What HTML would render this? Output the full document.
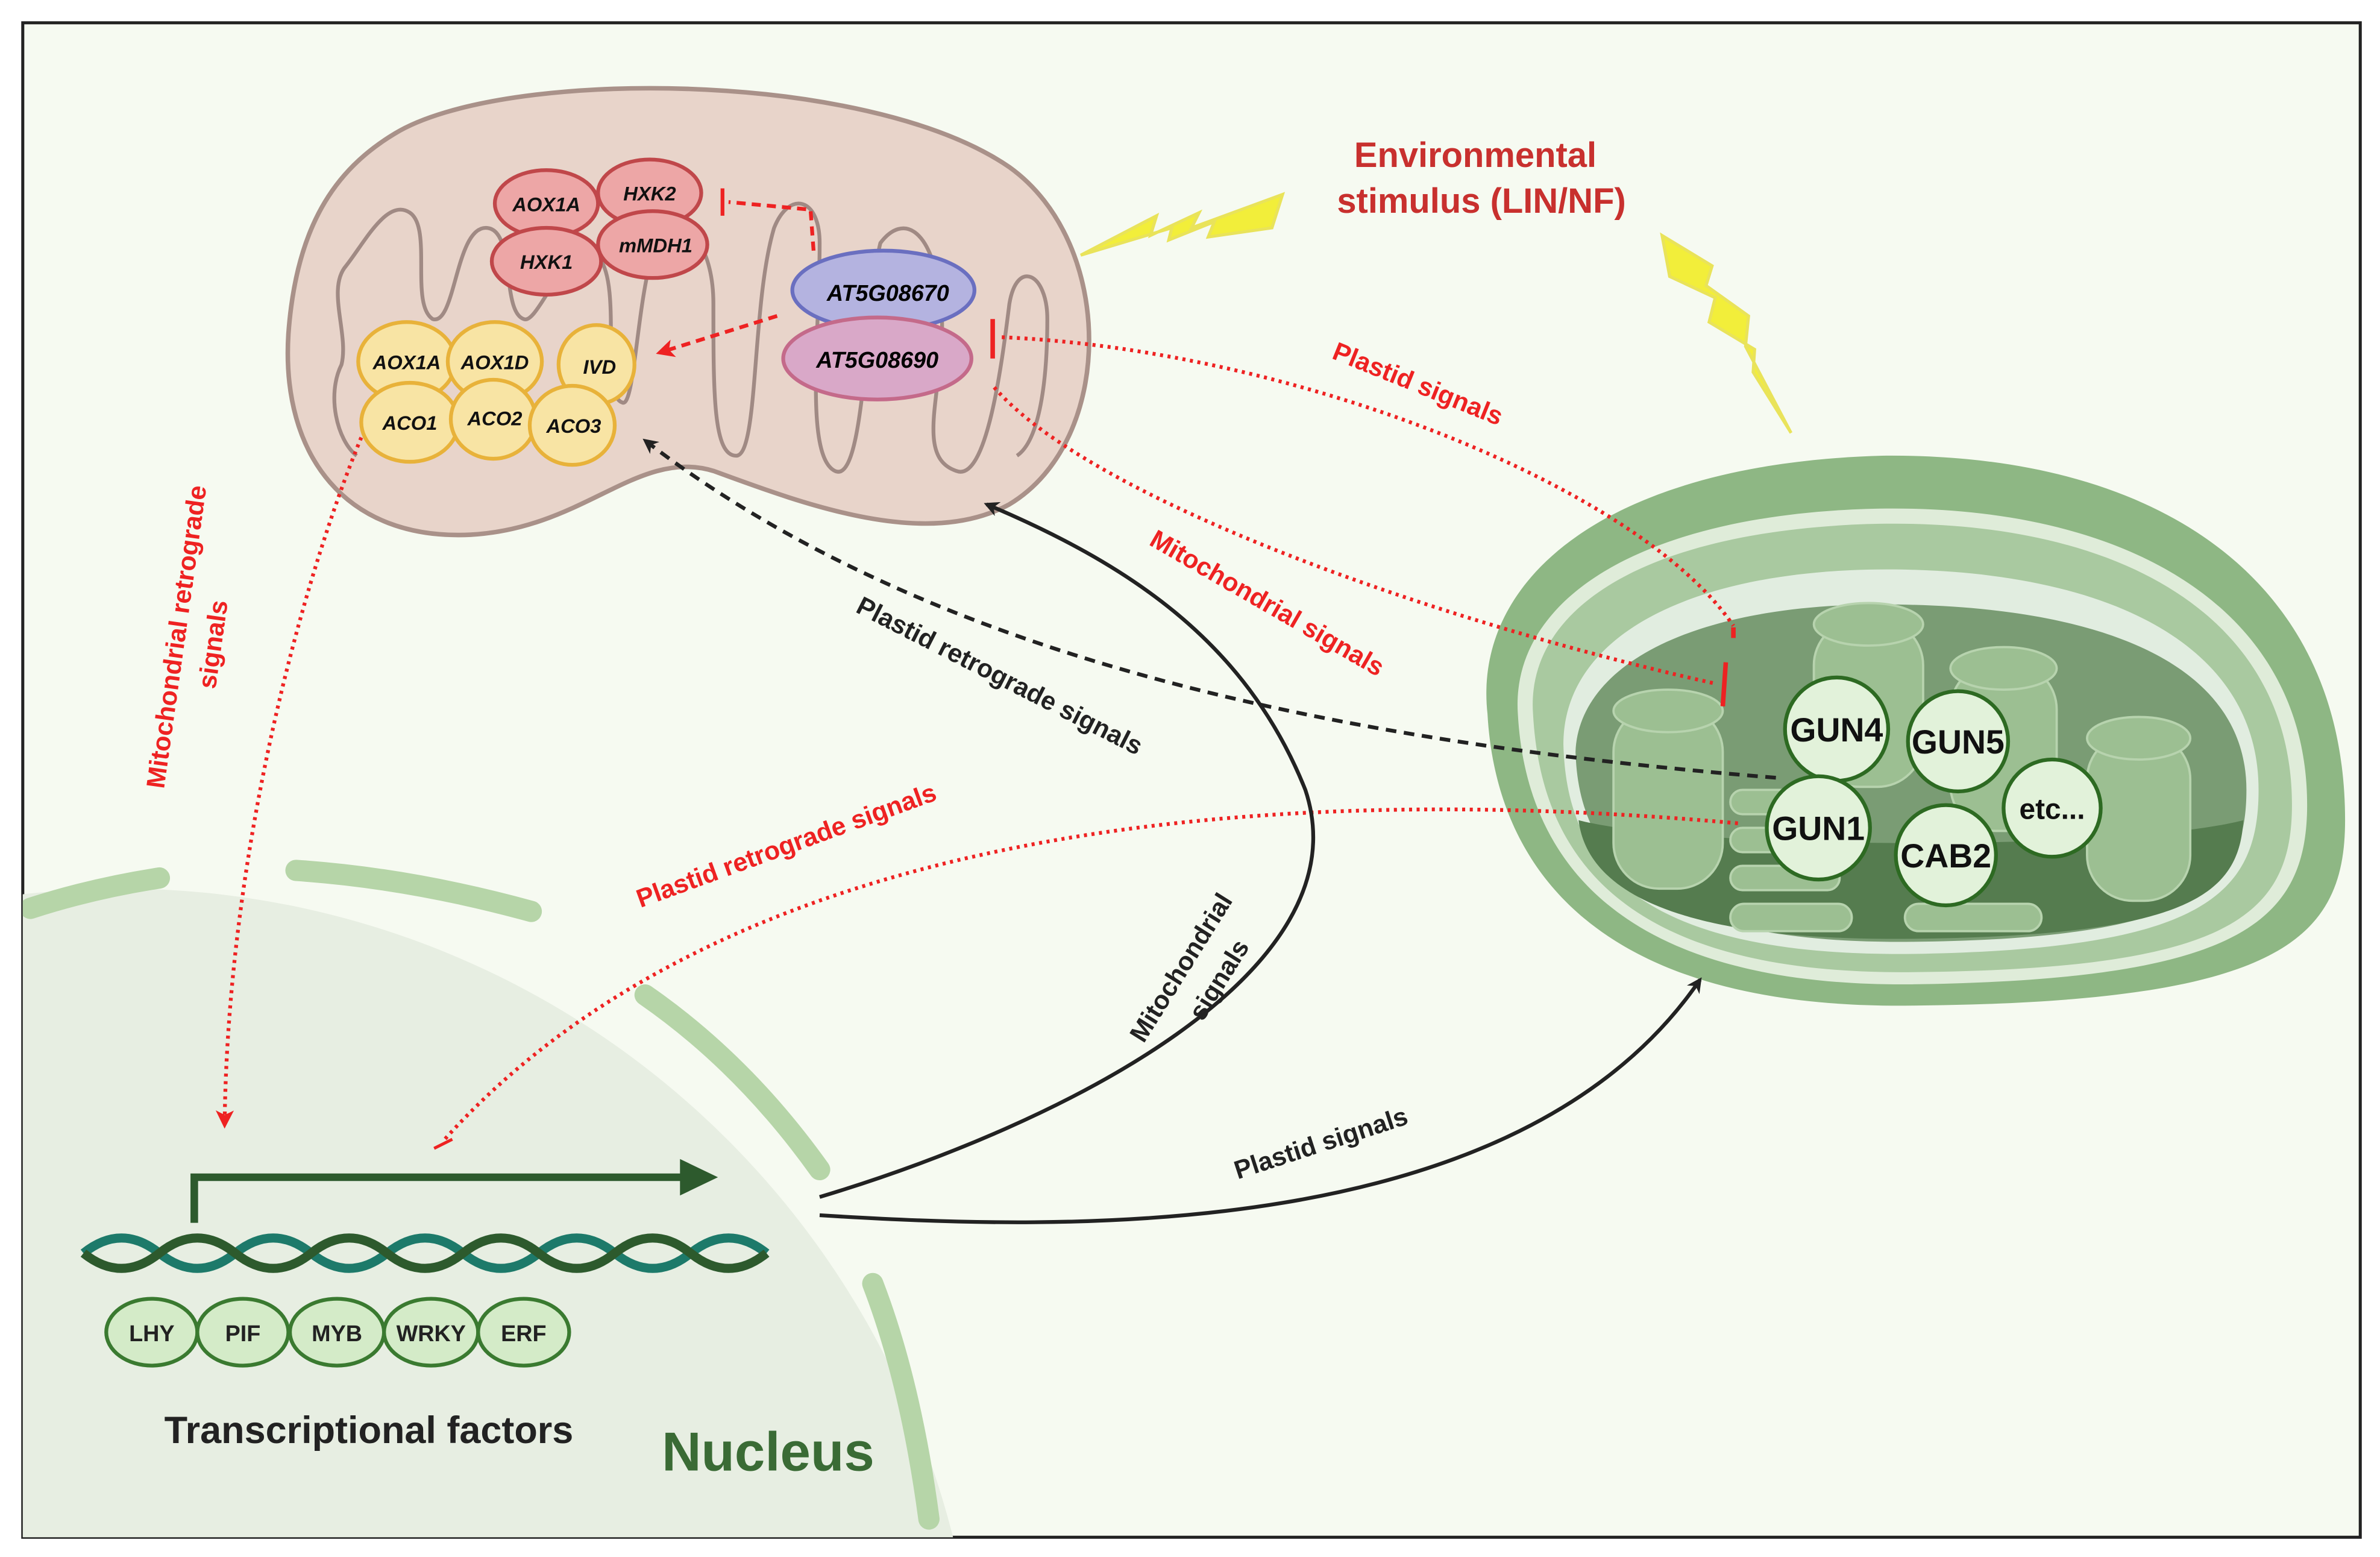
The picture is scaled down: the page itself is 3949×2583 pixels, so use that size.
<!DOCTYPE html>
<html><head><meta charset="utf-8"><style>
html,body{margin:0;padding:0;background:#fff;width:3949px;height:2583px;overflow:hidden}
svg{display:block}
text{font-family:"Liberation Sans",sans-serif;font-weight:bold}
</style></head><body>
<svg width="3949" height="2583" viewBox="0 0 1568 1025" preserveAspectRatio="none" xmlns="http://www.w3.org/2000/svg">
<defs>
<marker id="ab" markerWidth="10" markerHeight="10" refX="8" refY="5" orient="auto" markerUnits="userSpaceOnUse"><path d="M0,0 L10,5 L0,10 L3,5 Z" fill="#222"/></marker>
<marker id="ar" markerWidth="12" markerHeight="12" refX="9" refY="6" orient="auto" markerUnits="userSpaceOnUse"><path d="M0,0 L12,6 L0,12 L3,6 Z" fill="#e22"/></marker>
<clipPath id="fr"><rect x="15" y="15" width="1540" height="997"/></clipPath>
</defs>
<rect x="0" y="0" width="1568" height="1025" fill="#fff"/>
<rect x="15" y="15" width="1540" height="997" fill="#f6faf1" stroke="#222" stroke-width="2"/>
<g clip-path="url(#fr)">
<circle cx="80" cy="1150" r="565" fill="#e7eee2"/>
<g fill="none" stroke="#b6d5a8" stroke-width="14" stroke-linecap="round">
<path d="M20,598 Q60,585 105,578"/>
<path d="M195,573 Q270,578 350,600"/>
<path d="M425,655 Q490,700 540,770"/>
<path d="M575,845 Q600,910 612,1000"/>
</g>
<text x="436" y="968" font-size="36" fill="#3a6b35">Nucleus</text>
</g>
<path d="M260,88 C330,45 570,45 665,110 C735,160 735,290 665,332 C610,362 530,332 470,310 C420,295 385,348 310,352 C228,356 185,300 190,220 C195,150 220,112 260,88 Z" fill="#e8d4ca" stroke="#a99189" stroke-width="3"/>
<path d="M235,300 C222,290 215,260 225,240 C230,220 215,190 228,175 C240,160 255,130 270,140 C285,150 270,200 285,210 C300,215 300,150 320,150 C340,150 330,205 345,210 C355,215 375,150 395,170 C410,190 395,260 410,265 C420,270 420,160 440,150 C455,145 470,165 470,200 C470,260 470,300 485,300 C500,300 495,200 510,150 C520,125 540,130 540,160 C540,220 530,300 550,310 C570,320 570,200 580,160 C595,140 615,150 620,200 C625,250 600,300 630,310 C650,318 660,240 665,200 C670,170 690,180 690,210 C690,250 685,290 670,300" fill="none" stroke="#a08a84" stroke-width="2.5"/>
<g stroke="#c0474a" stroke-width="2.5" fill="#eda6a6">
<ellipse cx="360" cy="134" rx="34" ry="22"/><ellipse cx="428" cy="127" rx="34" ry="22"/>
<ellipse cx="360" cy="172" rx="36" ry="22"/><ellipse cx="430" cy="161" rx="36" ry="22"/>
</g>
<g font-size="13" font-style="italic" text-anchor="middle" fill="#111">
<text x="360" y="139">AOX1A</text><text x="428" y="132">HXK2</text><text x="360" y="177">HXK1</text><text x="432" y="166">mMDH1</text>
</g>
<g stroke="#e8b23a" stroke-width="2.5" fill="#f8e4a4">
<ellipse cx="268" cy="238" rx="32" ry="26"/><ellipse cx="326" cy="238" rx="31" ry="26"/><ellipse cx="393" cy="240" rx="25" ry="26"/>
<ellipse cx="270" cy="278" rx="32" ry="26"/><ellipse cx="325" cy="276" rx="28" ry="26"/><ellipse cx="377" cy="280" rx="28" ry="26"/>
</g>
<g font-size="13" font-style="italic" text-anchor="middle" fill="#111">
<text x="268" y="243">AOX1A</text><text x="326" y="243">AOX1D</text><text x="395" y="246">IVD</text>
<text x="270" y="283">ACO1</text><text x="326" y="280">ACO2</text><text x="378" y="285">ACO3</text>
</g>
<ellipse cx="582" cy="191" rx="60" ry="26" fill="#b4b3e0" stroke="#6a6fc0" stroke-width="2.5"/>
<ellipse cx="578" cy="236" rx="62" ry="27" fill="#d9a8c8" stroke="#c46a8a" stroke-width="2.5"/>
<text x="585" y="198" font-size="15" font-style="italic" text-anchor="middle">AT5G08670</text>
<text x="578" y="242" font-size="15" font-style="italic" text-anchor="middle">AT5G08690</text>
<path d="M536,165 L534,138 L480,133" fill="none" stroke="#e22" stroke-width="2.5" stroke-dasharray="6,4"/>
<path d="M476,124 L476,142" stroke="#e22" stroke-width="2.5"/>
<path d="M512,208 L435,232" fill="none" stroke="#e22" stroke-width="2.5" stroke-dasharray="6,4" marker-end="url(#ar)"/>
<path d="M712,168 L762,142 L758,155 L790,140 L785,150 L845,128 L838,150 L796,156 L800,146 L770,158 L772,150 Z" fill="#f2ee3a" stroke="#e9e35a" stroke-width="2"/>
<path d="M1095,155 L1128,175 L1124,188 L1152,208 L1150,228 L1180,285 L1155,245 L1156,230 L1126,212 L1130,196 L1100,182 Z" fill="#f2ee3a" stroke="#e9e35a" stroke-width="2"/>
<text x="972" y="110" font-size="23" fill="#c8302e" text-anchor="middle">Environmental</text>
<text x="976" y="140" font-size="23" fill="#c8302e" text-anchor="middle">stimulus (LIN/NF)</text>
<path d="M980,470 C970,380 1060,305 1240,300 C1420,298 1545,380 1545,540 C1545,620 1500,660 1260,662 C1040,665 985,560 980,470 Z" fill="#8eb784"/>
<path d="M1000,470 C995,395 1080,340 1230,335 C1400,330 1520,400 1520,530 C1520,610 1470,645 1260,648 C1060,650 1005,560 1000,470 Z" fill="#dfecd9"/>
<path d="M1010,470 C1005,400 1085,350 1230,345 C1395,340 1510,405 1510,530 C1510,605 1465,638 1260,640 C1065,642 1015,560 1010,470 Z" fill="#a9c9a0"/>
<path d="M1030,490 C1030,420 1110,378 1230,375 C1380,372 1488,420 1488,520 C1488,590 1450,625 1260,628 C1080,630 1032,570 1030,490 Z" fill="#e1ede0"/>
<path d="M1038,495 C1040,440 1110,400 1230,398 C1380,396 1480,435 1480,520 C1480,585 1445,618 1260,620 C1085,622 1040,565 1038,495 Z" fill="#7a9c74"/>
<path d="M1040,540 C1120,560 1400,560 1478,540 C1475,590 1440,616 1260,618 C1090,620 1045,580 1040,540 Z" fill="#557c4f"/>
<g fill="#9cbf92" stroke="#b7d3ae" stroke-width="1.5">
<rect x="1063" y="465" width="72" height="120" rx="30"/><ellipse cx="1099" cy="468" rx="36" ry="14"/>
<rect x="1195" y="408" width="72" height="110" rx="30"/><ellipse cx="1231" cy="411" rx="36" ry="14"/>
<rect x="1285" y="437" width="70" height="110" rx="30"/><ellipse cx="1320" cy="440" rx="35" ry="14"/>
<rect x="1375" y="483" width="68" height="110" rx="30"/><ellipse cx="1409" cy="486" rx="34" ry="14"/>
<rect x="1140" y="520" width="72" height="16" rx="8"/><rect x="1140" y="545" width="72" height="16" rx="8"/><rect x="1140" y="570" width="72" height="16" rx="8"/>
<rect x="1140" y="595" width="80" height="18" rx="9"/><rect x="1255" y="595" width="90" height="18" rx="9"/>
</g>
<g fill="#e2f2da" stroke="#2d6a22" stroke-width="2.5">
<circle cx="1210" cy="480" r="34"/><circle cx="1290" cy="488" r="33"/><circle cx="1352" cy="532" r="32"/>
<circle cx="1198" cy="545" r="34"/><circle cx="1282" cy="563" r="33"/>
</g>
<g font-size="22" text-anchor="middle" fill="#111">
<text x="1210" y="488">GUN4</text><text x="1290" y="496">GUN5</text><text x="1198" y="553">GUN1</text><text x="1282" y="571">CAB2</text>
<text x="1352" y="539" font-size="19">etc...</text>
</g>
<g fill="none" stroke="#e22" stroke-width="2.5" stroke-dasharray="2,3">
<path d="M238,288 C200,380 150,560 148,740" marker-end="url(#ar)"/>
<path d="M660,222 C850,230 1080,320 1142,412"/>
<path d="M655,255 C720,330 950,410 1130,450"/>
<path d="M1145,542 C900,520 500,520 293,750"/>
</g>
<path d="M654,210 L654,236" stroke="#e22" stroke-width="3"/>
<path d="M1142,413 L1142,420" stroke="#e22" stroke-width="3"/>
<path d="M1137,436 L1135,465" stroke="#e22" stroke-width="3"/>
<path d="M286,756 L298,750" stroke="#e22" stroke-width="2"/>
<path d="M1170,512 C900,490 620,440 425,290" fill="none" stroke="#222" stroke-width="2.5" stroke-dasharray="7,5" marker-end="url(#ab)"/>
<path d="M540,788 C700,740 900,640 860,520 C820,420 740,370 650,332" fill="none" stroke="#222" stroke-width="2.5" marker-end="url(#ab)"/>
<path d="M540,800 C700,810 1000,820 1120,645" fill="none" stroke="#222" stroke-width="2.5" marker-end="url(#ab)"/>
<path d="M128,805 L128,775 L450,775" fill="none" stroke="#2d5a2d" stroke-width="5"/>
<path d="M448,763 L473,775 L448,787 Z" fill="#2d5a2d"/>
<g fill="none" stroke-width="6">
<path d="M55,825 Q80,805 105,825 T155,825 T205,825 T255,825 T305,825 T355,825 T405,825 T455,825 T505,825" stroke="#1d7a6a"/>
<path d="M55,825 Q80,845 105,825 T155,825 T205,825 T255,825 T305,825 T355,825 T405,825 T455,825 T505,825" stroke="#2d5a2d"/>
</g>
<g fill="#d4ebc8" stroke="#3a7a30" stroke-width="2.5">
<ellipse cx="100" cy="877" rx="30" ry="22"/><ellipse cx="160" cy="877" rx="30" ry="22"/><ellipse cx="222" cy="877" rx="31" ry="22"/>
<ellipse cx="284" cy="877" rx="31" ry="22"/><ellipse cx="345" cy="877" rx="30" ry="22"/>
</g>
<g font-size="15" text-anchor="middle" fill="#222" font-weight="normal">
<text x="100" y="883">LHY</text><text x="160" y="883">PIF</text><text x="222" y="883">MYB</text><text x="284" y="883">WRKY</text><text x="345" y="883">ERF</text>
</g>
<text x="243" y="950" font-size="25" text-anchor="middle" fill="#222">Transcriptional factors</text>
<g font-size="17" fill="#e22">
<text transform="translate(932,258) rotate(22)" text-anchor="middle">Plastid signals</text>
<text transform="translate(832,402) rotate(30)" text-anchor="middle">Mitochondrial signals</text>
<text transform="translate(520,562) rotate(-20)" text-anchor="middle">Plastid retrograde signals</text>
<text transform="translate(122,420) rotate(-82)" text-anchor="middle">Mitochondrial retrograde</text>
<text transform="translate(146,425) rotate(-82)" text-anchor="middle">signals</text>
</g>
<g font-size="17" fill="#222" font-weight="normal">
<text transform="translate(656,450) rotate(27)" text-anchor="middle">Plastid retrograde signals</text>
<text transform="translate(872,758) rotate(-18)" text-anchor="middle">Plastid signals</text>
<text transform="translate(783,640) rotate(-58)" text-anchor="middle">Mitochondrial</text>
<text transform="translate(808,648) rotate(-58)" text-anchor="middle">signals</text>
</g>
</svg>
</body></html>
